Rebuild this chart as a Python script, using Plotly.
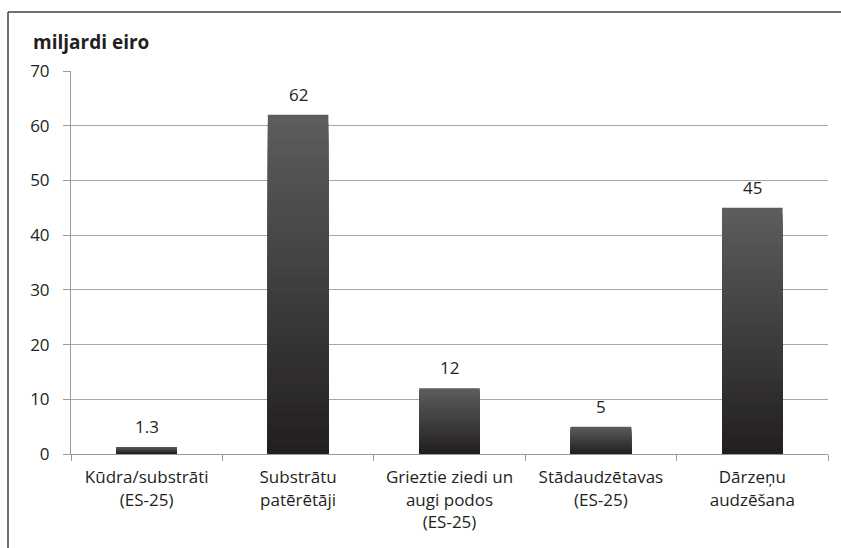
import plotly.graph_objects as go

categories = ["Kūdra/substrāti<br>(ES-25)", "Substrātu<br>patērētāji",
              "Grieztie ziedi un<br>augi podos<br>(ES-25)", "Stādaudzētavas<br>(ES-25)",
              "Dārzeņu<br>audzēšana"]
values = [1.3, 62, 12, 5, 45]
value_labels = ["1.3", "62", "12", "5", "45"]
y_ticks = [0, 10, 20, 30, 40, 50, 60, 70]

FONT = "Open Sans"
TXT = "#231f20"

top_rgb = (0x5c, 0x5d, 0x5f)
bot_rgb = (0x23, 0x1f, 0x20)
N = 40

fig = go.Figure()
# gradient bars: overlaid layers of decreasing height, darker toward the base
for k in range(N):
    t = k / (N - 1)
    c = tuple(round(top_rgb[i] + (bot_rgb[i] - top_rgb[i]) * t) for i in range(3))
    frac = (N - k) / N
    fig.add_trace(go.Bar(
        x=categories, y=[v * frac for v in values],
        marker=dict(color="rgb(%d,%d,%d)" % c, line=dict(width=0)),
        hoverinfo="skip", showlegend=False,
    ))

for cat, v, lab in zip(categories, values, value_labels):
    fig.add_annotation(x=cat, y=v, text=lab, showarrow=False, yanchor="bottom",
                       yshift=7, font=dict(family=FONT, size=17, color=TXT))

W, H = 841, 548
ml, mr, mt, mb = 71, 13, 71, 94
pw = W - ml - mr
ph = H - mt - mb
fx = (8 - ml) / pw
fy = 1 + (mt - 12) / ph
fig.add_shape(type="line", xref="paper", yref="paper", x0=fx, y0=fy, x1=1.2, y1=fy,
              line=dict(color="#404040", width=1.5))
fig.add_shape(type="line", xref="paper", yref="paper", x0=fx, y0=fy, x1=fx, y1=-0.5,
              line=dict(color="#404040", width=1.5))

fig.add_annotation(xref="paper", yref="paper", x=(31 - ml) / pw, y=1 + (mt - 42) / ph,
                   xanchor="left", yanchor="middle", showarrow=False,
                   text="<b>miljardi eiro</b>", font=dict(family=FONT, size=19, color=TXT))

fig.update_layout(
    width=W, height=H,
    margin=dict(l=ml, r=mr, t=mt, b=mb),
    paper_bgcolor="white", plot_bgcolor="white",
    barmode="overlay", bargap=0.6,
    font=dict(family=FONT, size=17, color=TXT),
    xaxis=dict(showgrid=False, showline=True, linecolor="#9a9a9a", linewidth=1,
               ticks="outside", ticklen=6, tickcolor="#9a9a9a", tickson="boundaries",
               ticklabelstandoff=8,
               tickfont=dict(family=FONT, size=17, color=TXT)),
    yaxis=dict(range=[0, 70], tickvals=y_ticks, showgrid=True, gridcolor="#a6a6a6",
               gridwidth=1, showline=True, linecolor="#9a9a9a", linewidth=1,
               ticks="outside", ticklen=7, tickcolor="#9a9a9a", zeroline=False,
               ticklabelstandoff=10,
               tickfont=dict(family=FONT, size=17, color=TXT)),
)

fig.write_html("out.html", config={"displayModeBar": False},
               post_script="document.body.style.margin='0';")
